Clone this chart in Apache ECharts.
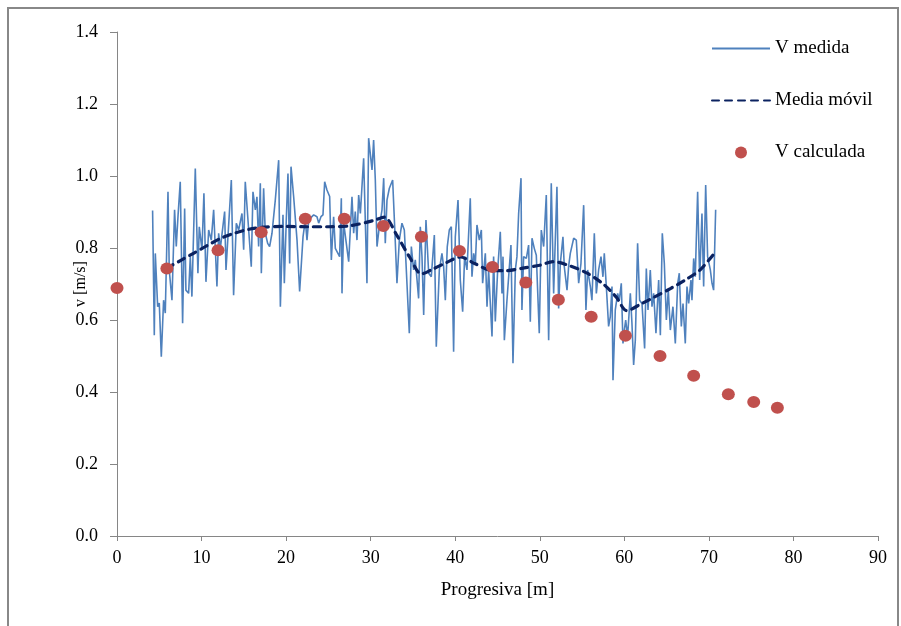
<!DOCTYPE html>
<html>
<head>
<meta charset="utf-8">
<script src="https://cdn.jsdelivr.net/npm/echarts@6/dist/echarts.min.js"></script>
<style>
  html, body { margin: 0; padding: 0; background: #fff; }
  #chart { width: 901px; height: 626px; }
</style>
</head>
<body>
<div id="chart"></div>
<script>
// V medida: progresiva [m] y velocidad [m/s]
var progMedida = [
  4.21, 4.41, 4.53, 4.81, 5.00, 5.24, 5.51, 5.71, 6.03, 6.18, 6.50, 6.81, 7.01, 7.21, 7.48, 7.76, 8.00, 8.15, 8.47, 8.67,
  8.86, 9.26, 9.57, 9.73, 10.05, 10.28, 10.52, 10.84, 11.15, 11.43, 11.82, 12.02, 12.22, 12.73, 12.89, 13.52, 13.79, 14.11, 14.39, 14.78,
  14.98, 15.17, 15.88, 16.08, 16.36, 16.55, 16.75, 16.95, 17.07, 17.34,
  17.54, 17.82, 18.05, 18.33, 18.72, 19.12, 19.32, 19.63, 19.79, 20.02, 20.22, 20.42, 20.58, 20.89, 21.29, 21.60, 22.00, 22.27, 22.47, 22.67,
  22.86, 23.26, 23.65, 23.85, 24.12, 24.36, 24.56, 24.83, 25.15, 25.35, 25.62, 25.82, 26.02, 26.33, 26.53, 26.61, 26.81, 27.12, 27.40, 27.79,
  27.99, 28.18, 28.38, 28.58, 28.78, 29.17, 29.56, 29.76, 30.16, 30.35, 30.55, 30.75,
  31.02, 31.34, 31.54, 31.73, 31.93, 32.21, 32.60, 32.84, 33.11, 33.39, 33.70, 33.98, 34.18, 34.57, 34.81, 35.08, 35.28, 35.67, 35.87, 36.07,
  36.27, 36.54, 36.86, 37.17, 37.53, 37.76, 38.12, 38.43, 38.63, 38.83, 39.06, 39.30, 39.54, 39.81, 40.01, 40.33, 40.60, 40.88, 41.11, 41.39,
  41.78, 41.98, 42.18, 42.38, 42.57, 42.85, 43.09, 43.24, 43.56, 43.76, 43.95, 44.35, 44.54,
  44.74, 45.02, 45.33, 45.53, 45.65, 45.81, 46.12, 46.59, 46.83, 47.11, 47.30, 47.50, 47.78, 47.89, 48.09, 48.41, 48.68, 48.88, 49.08, 49.35,
  49.59, 49.75, 49.94, 50.18, 50.46, 50.77, 51.05, 51.36, 51.64, 52.03, 52.23, 52.43, 52.74, 52.90, 53.22, 53.41, 53.61, 54.01, 54.32, 54.60,
  54.87, 55.19, 55.46, 55.66, 55.98, 56.17, 56.45, 56.69, 56.96, 57.24, 57.47, 57.63, 57.87, 58.14,
  58.34, 58.54, 58.66, 58.93, 59.21, 59.41, 59.64, 59.84, 60.00, 60.16, 60.39, 60.71, 60.90, 61.10, 61.30, 61.57, 61.81, 62.09, 62.40, 62.60,
  62.80, 63.07, 63.27, 63.47, 63.74, 64.06, 64.26, 64.49, 64.73, 64.97, 65.20, 65.44, 65.75, 66.03, 66.31, 66.50, 66.74, 66.94, 67.21, 67.41,
  67.61, 67.88, 68.00, 68.20, 68.39, 68.67, 68.91, 69.18, 69.38, 69.62, 69.85, 70.17, 70.37, 70.56, 70.80
];
var vMedida = [
  0.904, 0.558, 0.785, 0.637, 0.647, 0.498, 0.655, 0.619, 0.956, 0.739, 0.655, 0.906, 0.804, 0.887, 0.984, 0.591, 0.910, 0.683, 0.674, 0.776,
  0.665, 1.021, 0.730, 0.859, 0.795, 0.952, 0.706, 0.850, 0.822, 0.906, 0.693, 0.841, 0.799, 0.901, 0.739, 0.989, 0.669, 0.869, 0.850, 0.896,
  0.795, 0.984, 0.748, 0.956, 0.906, 0.942, 0.804, 0.980, 0.730, 0.966,
  0.841, 0.813, 0.804, 0.841, 0.933, 1.044, 0.637, 0.892, 0.702, 0.878, 1.007, 0.757, 1.026, 0.943, 0.822, 0.679, 0.831, 0.878, 0.822, 0.878,
  0.882, 0.892, 0.887, 0.869, 0.887, 0.892, 0.984, 0.961, 0.943, 0.767, 0.887, 0.799, 0.790, 0.776, 0.938, 0.674, 0.869, 0.813, 0.762, 0.942,
  0.841, 0.901, 0.822, 0.947, 0.896, 1.049, 0.702, 1.105, 1.017, 1.100, 0.989, 0.804,
  0.859, 0.906, 0.994, 0.813, 0.933, 0.966, 0.989, 0.859, 0.702, 0.822, 0.869, 0.850, 0.757, 0.563, 0.804, 0.739, 0.767, 0.660, 0.859, 0.776,
  0.614, 0.878, 0.730, 0.720, 0.836, 0.526, 0.739, 0.785, 0.748, 0.655, 0.804, 0.850, 0.859, 0.512, 0.831, 0.933, 0.711, 0.623, 0.776, 0.739,
  0.938, 0.720, 0.785, 0.757, 0.864, 0.822, 0.850, 0.702, 0.785, 0.637, 0.739, 0.554, 0.776,
  0.596, 0.739, 0.845, 0.674, 0.776, 0.544, 0.655, 0.808, 0.480, 0.739, 0.776, 0.896, 0.994, 0.628, 0.776, 0.771, 0.808, 0.595, 0.827, 0.799,
  0.780, 0.776, 0.563, 0.850, 0.804, 0.947, 0.544, 0.980, 0.674, 0.970, 0.632, 0.757, 0.831, 0.748, 0.683, 0.748, 0.785, 0.827, 0.822, 0.702,
  0.757, 0.919, 0.628, 0.739, 0.693, 0.655, 0.841, 0.674, 0.739, 0.776, 0.720, 0.785, 0.693, 0.582,
  0.609, 0.693, 0.433, 0.628, 0.674, 0.655, 0.702, 0.535, 0.572, 0.600, 0.554, 0.674, 0.591, 0.475, 0.544, 0.813, 0.655, 0.646, 0.521, 0.743,
  0.628, 0.739, 0.637, 0.674, 0.563, 0.711, 0.558, 0.841, 0.757, 0.600, 0.683, 0.572, 0.637, 0.535, 0.702, 0.730, 0.582, 0.646, 0.535, 0.693,
  0.646, 0.711, 0.655, 0.771, 0.720, 0.956, 0.711, 0.896, 0.693, 0.975, 0.776, 0.739, 0.702, 0.683, 0.906
];

// Media móvil
var progMedia = [5.9, 7.5, 9.1, 10.6, 12.2, 14.0, 15.6, 17.3, 20.0, 22.5, 25.0, 27.6, 30.3, 31.6, 33.1, 34.6, 36.0, 37.4, 39.0,
  40.6, 42.3, 44.2, 46.0, 48.0, 50.0, 51.6, 53.6, 55.6, 57.5, 59.0, 60.3, 62.0, 63.5, 65.5, 67.4, 69.0, 70.8];
var vMedia = [0.744, 0.765, 0.786, 0.806, 0.826, 0.842, 0.852, 0.858, 0.860, 0.859, 0.859, 0.862, 0.876, 0.886, 0.835, 0.775, 0.728, 0.742, 0.760,
  0.775, 0.757, 0.738, 0.737, 0.744, 0.752, 0.762, 0.750, 0.730, 0.700, 0.665, 0.626, 0.645, 0.663, 0.688, 0.714, 0.740, 0.790];

// V calculada
var progCalc = [0, 5.9, 11.95, 17.05, 22.27, 26.88, 31.5, 36.0, 40.5, 44.4, 48.35, 52.2, 56.08, 60.13, 64.22, 68.2, 72.3, 75.3, 78.1];
var vCalc = [0.689, 0.743, 0.794, 0.844, 0.881, 0.881, 0.861, 0.831, 0.792, 0.747, 0.704, 0.656, 0.609, 0.556, 0.500, 0.445, 0.394, 0.372, 0.356];

var xTicks = { min: 0, max: 90, step: 10 };
var yTicks = { min: 0, max: 1.4, step: 0.2 };

function zip(xs, ys) {
    return xs.map(function (x, i) { return [x, ys[i]]; });
}

var serif = 'Liberation Serif, Times New Roman, serif';
var axisGray = '#868686';

var chart = echarts.init(document.getElementById('chart'));
var option = {
    backgroundColor: '#fff',
    animation: false,
    textStyle: { fontFamily: serif },
    graphic: [{
        type: 'rect',
        shape: { x: 8, y: 8, width: 890, height: 640 },
        style: { fill: 'none', stroke: '#888', lineWidth: 2 },
        silent: true
    }],
    grid: { left: 117, top: 32, right: 23, bottom: 90 },
    legend: {
        orient: 'vertical',
        left: 711,
        top: 39,
        padding: 0,
        itemWidth: 58,
        itemHeight: 12,
        itemGap: 33,
        textStyle: { fontFamily: serif, fontSize: 19, color: '#000' },
        data: [
            { name: 'V medida', itemStyle: { opacity: 0 } },
            { name: 'Media móvil', itemStyle: { opacity: 0 } },
            { name: 'V calculada' }
        ]
    },
    xAxis: {
        type: 'value',
        min: xTicks.min,
        max: xTicks.max,
        interval: xTicks.step,
        name: 'Progresiva [m]',
        nameLocation: 'middle',
        nameGap: 45,
        nameMoveOverlap: false,
        nameTextStyle: { fontFamily: serif, fontSize: 19, color: '#000' },
        axisLine: { lineStyle: { color: axisGray } },
        axisTick: { length: 5, lineStyle: { color: axisGray } },
        axisLabel: { margin: 13, fontFamily: serif, fontSize: 18, color: '#000' },
        splitLine: { show: false }
    },
    yAxis: {
        type: 'value',
        min: yTicks.min,
        max: yTicks.max,
        interval: yTicks.step,
        name: 'v [m/s]',
        nameLocation: 'middle',
        nameGap: 28,
        nameMoveOverlap: false,
        nameTextStyle: { fontFamily: serif, fontSize: 16, color: '#000' },
        axisLine: { show: true, lineStyle: { color: axisGray } },
        axisTick: { show: true, length: 7, lineStyle: { color: axisGray } },
        axisLabel: {
            margin: 19, fontFamily: serif, fontSize: 18, color: '#000',
            formatter: function (v) { return v.toFixed(1); }
        },
        splitLine: { show: false }
    },
    series: [{
        name: 'V medida',
        type: 'line',
        data: zip(progMedida, vMedida),
        showSymbol: false,
        symbol: 'none',
        lineStyle: { color: '#4F81BD', width: 1.6 },
        itemStyle: { color: '#4F81BD' },
        z: 2
    }, {
        name: 'Media móvil',
        type: 'line',
        data: zip(progMedia, vMedia),
        showSymbol: false,
        symbol: 'none',
        smooth: 0.3,
        lineStyle: { color: '#0B2260', width: 3.2, type: [7, 6], cap: 'round' },
        itemStyle: { color: '#0B2260' },
        z: 3
    }, {
        name: 'V calculada',
        type: 'scatter',
        data: zip(progCalc, vCalc),
        symbol: 'circle',
        symbolSize: [13, 12],
        itemStyle: { color: '#C0504D', opacity: 1 },
        z: 4
    }]
};
chart.setOption(option);
</script>
</body>
</html>
